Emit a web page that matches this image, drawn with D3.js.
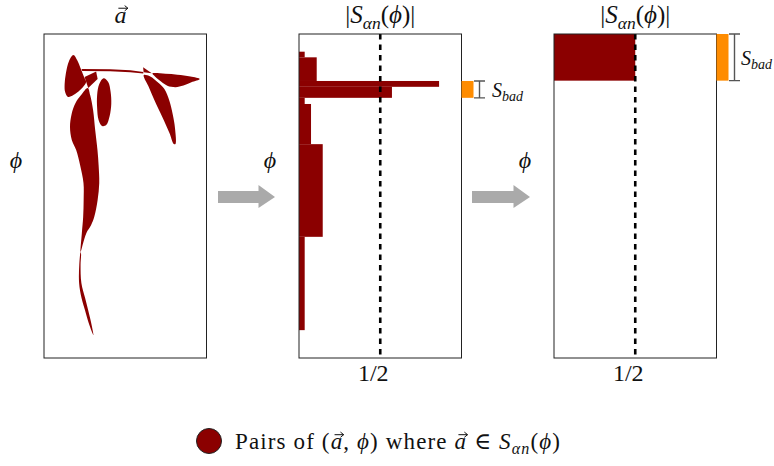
<!DOCTYPE html>
<html><head><meta charset="utf-8">
<script src="https://cdn.jsdelivr.net/npm/d3@7"></script>
<style>body{margin:0;background:#fff}svg{display:block}</style>
</head><body>
<svg id="c" width="774" height="466"></svg>
<script>
// ---------- DATA ----------
// Panel 1: regions of (a, phi) pairs, outlines in data units (a: 0-100, phi: 0-200, top to bottom)
const blobA = [[18.1,13.0],[20.6,16.5],[22.7,21.6],[24.7,26.7],[25.9,29.6],[22.2,34.6],[18.1,37.7],[14.8,38.9],[13.0,35.8],[12.7,30.9],[13.4,24.7],[15.4,16.7]];
const blobB = [[25.0,26.5],[32.1,23.1],[33.0,27.8],[27.2,33.3]];
const blobStem = [[26.9,33.3],[22.8,37.7],[19.4,42.6],[17.0,49.4],[16.0,57.4],[17.1,65.4],[19.8,71.6],[22.2,80.9],[24.3,92.0],[24.4,102.5],[24.1,113.0],[23.3,122.8],[22.5,134.6],[24.1,129.0],[26.1,122.8],[29.0,117.9],[30.9,113.0],[33.0,102.5],[34.0,92.0],[33.6,80.9],[32.9,71.6],[31.5,59.3],[30.2,46.9],[28.4,37.7]];
const blobTail = [[22.5,134.6],[21.7,142.6],[21.6,153.7],[23.1,163.0],[25.2,170.4],[27.7,179.0],[30.4,185.8],[29.3,179.6],[27.3,171.0],[25.3,163.0],[23.0,153.7],[22.5,142.6],[22.8,135.8]];
const blobC = [[36.7,27.3],[39.5,29.6],[41.0,35.8],[41.4,43.2],[40.4,50.6],[38.3,56.2],[35.8,56.8],[33.6,53.1],[32.7,45.7],[32.7,37.7],[34.0,30.9]];
const blobBand = [[23.1,21.6],[40.7,21.7],[53.1,22.4],[61.1,23.5],[61.1,24.4],[53.1,23.6],[40.7,23.0],[23.5,22.8]];
const blobTri = [[61.0,20.6],[66.3,24.3],[61.3,23.6]];
const blobE = [[66.7,24.4],[74.7,24.6],[82.1,25.1],[90.1,26.2],[95.9,27.8],[90.7,29.8],[85.8,31.8],[80.9,32.8],[75.9,31.9],[72.0,29.3],[68.3,26.2]];
const blobF = [[61.4,25.3],[65.4,26.2],[69.8,29.6],[74.1,34.0],[77.2,41.4],[79.3,50.0],[80.6,58.0],[80.9,67.9],[79.9,67.9],[77.2,61.1],[72.8,51.2],[67.9,40.7],[64.2,32.1],[61.7,27.2]];

// Panel 2: histogram of |S_an(phi)| per phi bin (phi as fraction 0-1, top to bottom)
const binStart = [0.0546, 0.072, 0.145, 0.163, 0.197, 0.216, 0.340, 0.626];
const binEnd   = [0.072, 0.145, 0.163, 0.197, 0.216, 0.340, 0.626, 0.914];
const binValue = [0.035, 0.109, 0.862, 0.572, 0.035, 0.074, 0.146, 0.035];

// Panel 3: after rearrangement
const sortedStart = [0];
const sortedEnd = [0.144];
const sortedValue = [0.5];

const threshold = 0.5;
const thresholdLabel = "1/2";
const sBadLabel = ["S", "bad"];

// ---------- LAYOUT ----------
const RED = "#8b0000", ORANGE = "#ff8c00", GREY = "#aaaaaa";
const FONT = "'Liberation Serif', 'DejaVu Serif', serif";
const panelX = [44, 299, 554], panelW = 162.5, topY = 34, bottomY = 358;
const svg = d3.select("#c");

// parts: [string, flags] flags: i=italic, s=subscript, v=vector arrow over the string
function mathText(x, y, parts, size, anchor, fitWidth) {
  const t = svg.append("text").attr("x", x).attr("y", y)
    .attr("font-size", size).attr("text-anchor", anchor || "middle")
    .attr("font-family", FONT).attr("fill", "#111");
  if (fitWidth) t.attr("textLength", fitWidth).attr("lengthAdjust", "spacing");
  let shifted = 0, idx = 0;
  const vecIdx = [];
  parts.forEach(([s, st]) => {
    const ts = t.append("tspan").text(s);
    if (st.includes("i")) ts.attr("font-style", "italic");
    if (st.includes("v")) vecIdx.push(idx);
    idx += s.length;
    if (st.includes("s")) {
      ts.attr("font-size", size * 0.7).attr("dy", size * 0.22 - shifted);
      shifted = size * 0.22;
    } else if (shifted) { ts.attr("dy", -shifted); shifted = 0; }
  });
  vecIdx.forEach(i => {
    const e = t.node().getExtentOfChar(i);
    const x0 = e.x + e.width * 0.25 + 1, x1v = e.x + e.width + 1.5;
    const ya = y - size * 0.47 - 3.5;
    svg.append("path")
      .attr("d", `M${x0},${ya}H${x1v}M${x1v - 3.2},${ya - 2.6}L${x1v},${ya}L${x1v - 3.2},${ya + 2.6}`)
      .attr("stroke", "#111").attr("stroke-width", 1).attr("fill", "none");
  });
  return t;
}

// ---------- PANEL 1 ----------
const x1 = d3.scaleLinear().domain([0, 100]).range([panelX[0], panelX[0] + panelW]);
const y1 = d3.scaleLinear().domain([0, 200]).range([topY, bottomY]);
const blobLine = d3.line().x(d => x1(d[0])).y(d => y1(d[1])).curve(d3.curveCatmullRomClosed.alpha(0.5));
const polyLine = d3.line().x(d => x1(d[0])).y(d => y1(d[1])).curve(d3.curveLinearClosed);
svg.append("rect").attr("x", panelX[0]).attr("y", topY).attr("width", panelW).attr("height", bottomY - topY)
  .attr("fill", "#fff").attr("stroke", "#222").attr("stroke-width", 1);
[blobA, blobStem, blobTail, blobC, blobE, blobF].forEach(b =>
  svg.append("path").attr("d", blobLine(b)).attr("fill", RED));
[blobB, blobBand, blobTri].forEach(b =>
  svg.append("path").attr("d", polyLine(b)).attr("fill", RED));

// ---------- PANELS 2 & 3 ----------
function histPanel(px, starts, ends, values, labelGap) {
  const x = d3.scaleLinear().domain([0, 1]).range([px, px + panelW]);
  const y = d3.scaleLinear().domain([0, 1]).range([topY, bottomY]);
  svg.append("rect").attr("x", px).attr("y", topY).attr("width", panelW).attr("height", bottomY - topY)
    .attr("fill", "#fff");
  svg.append("g").selectAll("rect").data(values).join("rect")
    .attr("x", x(0)).attr("y", (d, i) => y(starts[i]))
    .attr("width", d => x(d) - x(0)).attr("height", (d, i) => y(ends[i]) - y(starts[i]))
    .attr("fill", RED);
  svg.append("line").attr("x1", x(threshold)).attr("x2", x(threshold)).attr("y1", topY).attr("y2", bottomY)
    .attr("stroke", "#000").attr("stroke-width", 2.6).attr("stroke-dasharray", "5.5,5");
  svg.append("rect").attr("x", px).attr("y", topY).attr("width", panelW).attr("height", bottomY - topY)
    .attr("fill", "none").attr("stroke", "#222").attr("stroke-width", 1);
  // bad region
  const bad = values.map((v, i) => v >= threshold ? i : -1).filter(i => i >= 0);
  const b0 = y(d3.min(bad, i => starts[i])), b1 = y(d3.max(bad, i => ends[i]));
  svg.append("rect").attr("x", x(1)).attr("y", b0).attr("width", 12).attr("height", b1 - b0).attr("fill", ORANGE);
  const bx = x(1) + 18;
  svg.append("path").attr("d", `M${bx-5.5},${b0}H${bx+5.5}M${bx},${b0}V${b1}M${bx-5.5},${b1}H${bx+5.5}`)
    .attr("stroke", "#555").attr("stroke-width", 1.4).attr("fill", "none");
  mathText(bx + labelGap, (b0 + b1) / 2 + 7.5, [[sBadLabel[0], "i"], [sBadLabel[1], "is"]], 20, "start");
  // labels
  mathText(x(threshold) - 7, 381, [[thresholdLabel, "r"]], 24);
  mathText(x(0.5), 23, [["|", "r"], ["S", "i"], ["αn", "is"], ["(", "r"], ["ϕ", "i"], [")", "r"], ["|", "r"]], 25);
}
histPanel(panelX[1], binStart, binEnd, binValue, 12.5);
histPanel(panelX[2], sortedStart, sortedEnd, sortedValue, 6.5);

// title panel 1
mathText(x1(47), 23, [["a", "iv"]], 24);

// phi axis labels
[16, 270, 525].forEach(px => mathText(px, 168, [["ϕ", "i"]], 24));

// arrows between panels
[[218, 275], [472, 530]].forEach(([a, b]) => {
  const cy = 197, hl = 16.5;
  svg.append("path").attr("d",
    `M${a},${cy-6}H${b-hl}V${cy-12}L${b},${cy}L${b-hl},${cy+11}V${cy+6}H${a}Z`).attr("fill", GREY);
});

// legend
svg.append("circle").attr("cx", 209).attr("cy", 441).attr("r", 12.5).attr("fill", RED).attr("stroke", "#222").attr("stroke-width", 1);
mathText(235, 449, [["Pairs of (", "r"], ["a", "iv"], [", ", "r"], ["ϕ", "i"], [") where ", "r"], ["a", "iv"], [" ∈ ", "r"], ["S", "i"], ["αn", "is"], ["(", "r"], ["ϕ", "i"], [")", "r"]], 23, "start", 325);
</script>
</body></html>
